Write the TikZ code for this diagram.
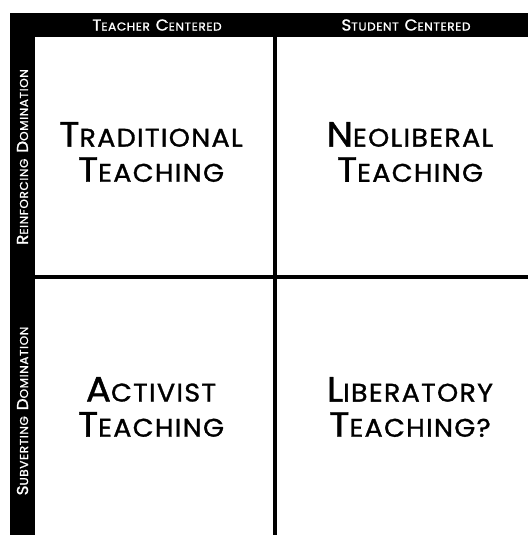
\documentclass[tikz,border=0pt]{standalone}
\usepackage{fontspec}
\setmainfont{Poppins}
\newfontfamily\capsfont[FakeStretch=1.06, LetterSpace=5, FakeBold=1.2]{Poppins}
\usetikzlibrary{positioning}

\newcommand{\bigsc}[2]{{\fontsize{20}{20}\selectfont #1}{\fontsize{14.5}{20}\selectfont #2}}
\newcommand{\smallsc}[2]{{\fontsize{9}{9}\selectfont #1}{\fontsize{6.5}{9}\selectfont #2}}

\begin{document}
\begin{tikzpicture}[x=0.02cm, y=-0.02cm]
  \tikzset{
    band/.style={fill=black},
    head/.style={text=white, inner sep=0pt, font=\capsfont},
    quadrant/.style={align=center, inner sep=0pt, font=\capsfont\fontsize{20}{20}\selectfont},
    divider/.style={line width=2pt}
  }
  \useasboundingbox (0,0) rectangle (528,535);

  % black bands
  \fill[band] (10,13) rectangle (528,37);
  \fill[band] (10,13) rectangle (35,535);

  % headings
  \node[head] (tc) at (157,25) {\smallsc{T}{EACHER} \smallsc{C}{ENTERED}};
  \node[head] (sc) at (406,25) {\smallsc{S}{TUDENT} \smallsc{C}{ENTERED}};
  \node[head, rotate=90] (rd) at (22.5,157) {\smallsc{R}{EINFORCING} \smallsc{D}{OMINATION}};
  \node[head, rotate=90] (sd) at (22.5,411) {\smallsc{S}{UBVERTING} \smallsc{D}{OMINATION}};

  % dividers
  \draw[divider] (275,37) -- (275,535);
  \draw[divider] (35,277) -- (528,277);

  % quadrants
  \node[quadrant] (trad) at (151,152) {\bigsc{T}{RADITIONAL}\\\bigsc{T}{EACHING}};
  \node[quadrant] (neo) at (410,152) {\bigsc{N}{EOLIBERAL}\\\bigsc{T}{EACHING}};
  \node[quadrant] (act) at (151,407) {\bigsc{A}{CTIVIST}\\\bigsc{T}{EACHING}};
  \node[quadrant] (lib) at (410,407) {\bigsc{L}{IBERATORY}\\\bigsc{T}{EACHING?}};
\end{tikzpicture}
\end{document}
